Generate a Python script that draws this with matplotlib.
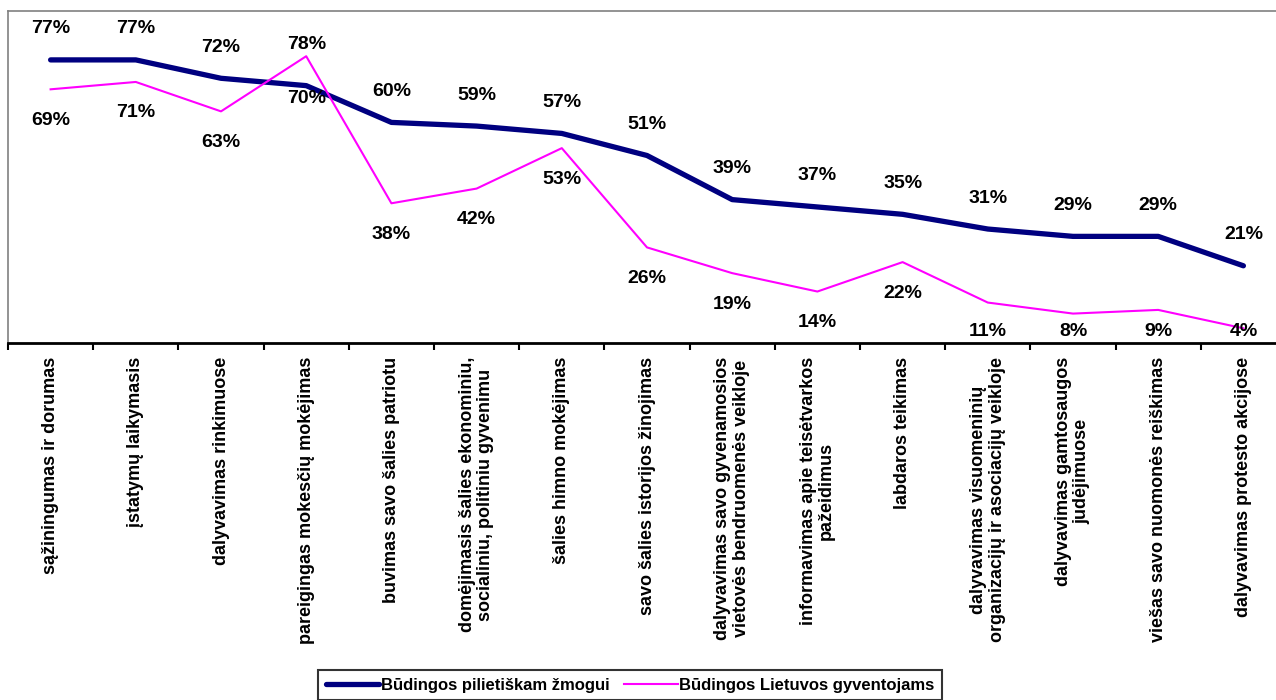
import matplotlib
matplotlib.use("Agg")
import matplotlib.pyplot as plt

plt.rcParams["font.family"] = ["Liberation Sans", "DejaVu Sans"]
plt.rcParams["font.weight"] = "bold"

# ── data ──────────────────────────────────────────────────────────────
categories = [
    "sąžiningumas ir dorumas",
    "įstatymų laikymasis",
    "dalyvavimas rinkimuose",
    "pareigingas mokesčių mokėjimas",
    "buvimas savo šalies patriotu",
    "domėjimasis šalies ekonominiu,\nsocialiniu, politiniu gyvenimu",
    "šalies himno mokėjimas",
    "savo šalies istorijos žinojimas",
    "dalyvavimas savo gyvenamosios\nvietovės bendruomenės veikloje",
    "informavimas apie teisėtvarkos\npažeidimus",
    "labdaros teikimas",
    "dalyvavimas visuomeninių\norganizacijų ir asociacijų veikloje",
    "dalyvavimas gamtosaugos\njudėjimuose",
    "viešas savo nuomonės reiškimas",
    "dalyvavimas protesto akcijose",
]
pilietiskam = [77, 77, 72, 70, 60, 59, 57, 51, 39, 37, 35, 31, 29, 29, 21]
lietuvos = [69, 71, 63, 78, 38, 42, 53, 26, 19, 14, 22, 11, 8, 9, 4]
series_names = ["Būdingos pilietiškam žmogui", "Būdingos Lietuvos gyventojams"]

BLUE = "#000080"
PINK = "#FF00FF"

W, H = 1276, 700
fig = plt.figure(figsize=(W / 100, H / 100), dpi=100)
fig.patch.set_facecolor("white")

# plot area: left 8px, top 11px, bottom 343px, 85.2px per category
left_px, top_px, bot_px, step_px = 8, 11, 343, 85.2
n = len(categories)
ax = fig.add_axes([left_px / W, (H - bot_px) / H,
                   n * step_px / W, (bot_px - top_px) / H])

x = list(range(n))
ax.plot(x, pilietiskam, color=BLUE, lw=3.8, solid_capstyle="round",
        solid_joinstyle="round", label=series_names[0], zorder=3)
ax.plot(x, lietuvos, color=PINK, lw=1.5, label=series_names[1], zorder=4)

ax.set_xlim(-0.5, n - 0.5)
ax.set_ylim(0, 90.3)

# ── data labels ───────────────────────────────────────────────────────
px_per_unit = (bot_px - top_px) / 90.3
for i, (b, p) in enumerate(zip(pilietiskam, lietuvos)):
    if p > b:
        yb, yp = b - 13 / px_per_unit, p + 12 / px_per_unit
    else:
        yb = b + 31 / px_per_unit
        yp = max(p - 31 / px_per_unit, 11 / px_per_unit)
    ax.text(i, yb, f"{b}%", ha="center", va="center", fontsize=14,
            fontweight="bold", color="black", zorder=5)
    ax.text(i, yp, f"{p}%", ha="center", va="center", fontsize=14,
            fontweight="bold", color="black", zorder=5)

# ── axes styling ──────────────────────────────────────────────────────
for s in ("left", "top", "right"):
    ax.spines[s].set_color("#808080")
    ax.spines[s].set_linewidth(1.2)
ax.spines["bottom"].set_color("black")
ax.spines["bottom"].set_linewidth(2)
ax.set_yticks([])

ax.set_xticks([i - 0.5 for i in range(n + 1)], minor=False)
ax.set_xticklabels([])
ax.tick_params(axis="x", which="major", direction="out", length=5,
               width=1.5, color="black")
ax.set_xticks(x, minor=True)
ax.set_xticklabels(categories, minor=True, rotation=90, fontsize=13,
                   fontweight="bold", ha="center", va="top",
                   multialignment="center", linespacing=1.12)
ax.tick_params(axis="x", which="minor", length=0, pad=10)

# ── legend ────────────────────────────────────────────────────────────
leg = fig.legend(loc="lower center", bbox_to_anchor=(630 / W, -0.012),
                 ncol=2, frameon=True, fancybox=False,
                 handlelength=3.2, handletextpad=0.1, columnspacing=0.9,
                 borderpad=0.45, prop={"weight": "bold", "size": 12})
leg.get_frame().set_edgecolor("black")
leg.get_frame().set_linewidth(1.5)

fig.savefig("out.png", dpi=100)
